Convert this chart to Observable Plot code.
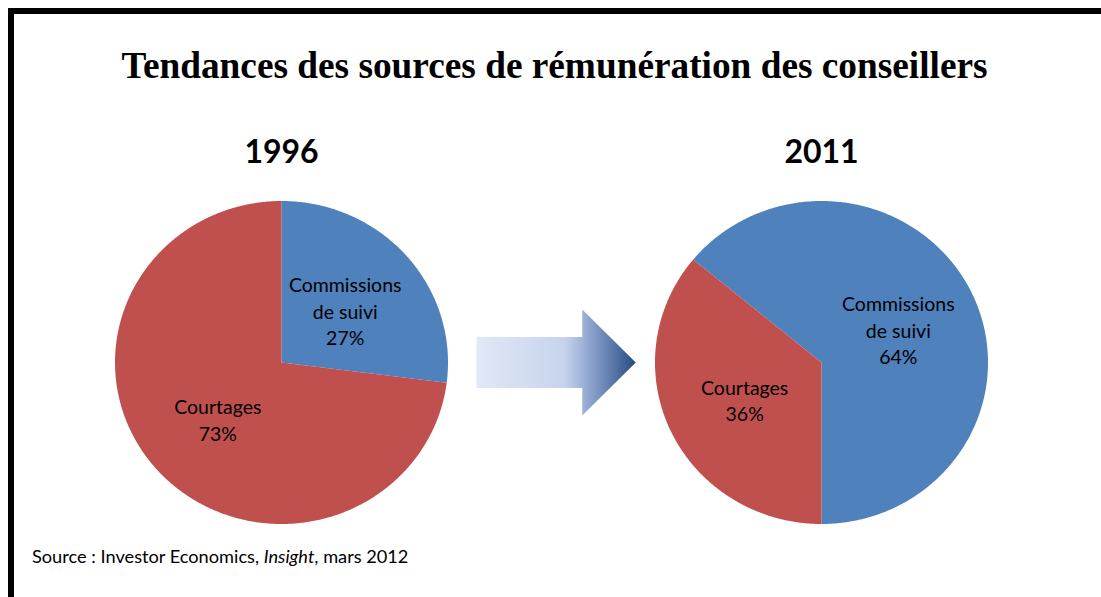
<!DOCTYPE html>
<html><head><meta charset="utf-8">
<script src="https://cdn.jsdelivr.net/npm/d3@7"></script>
<script src="https://cdn.jsdelivr.net/npm/@observablehq/plot@0.6"></script>
<style>
body{margin:0;background:#fff;}
#wrap{position:relative;width:1101px;height:597px;overflow:hidden;background:#fff;}
#frameTop{position:absolute;left:8px;top:8px;width:1093px;height:6px;background:#000;}
#frameLeft{position:absolute;left:8px;top:8px;width:6px;height:589px;background:#000;}
#chart{position:absolute;left:0;top:0;}
#title{position:absolute;left:8px;width:1093px;top:44px;text-align:center;font:bold 37.3px "Liberation Serif",serif;color:#000;white-space:nowrap;}
#source{position:absolute;left:32px;top:545px;font:18.2px Lato,sans-serif;color:#000;white-space:nowrap;}
</style></head>
<body>
<div id="wrap">
  <div id="chart"></div>
  <div id="frameTop"></div>
  <div id="frameLeft"></div>
  <div id="title">Tendances des sources de rémunération des conseillers</div>
  <div id="source">Source : Investor Economics, <i>Insight</i>, mars 2012</div>
</div>
<script>
// ---- data ----
const years = ["1996", "2011"];
const sources = ["Commissions de suivi", "Courtages"];
const sourceLabels = ["Commissions\nde suivi", "Courtages"];
const shares1996 = [27, 73];
const shares2011 = [64, 36];
const colors = ["#4f81bd", "#c0504d"];

// ---- layout (pixels -> units; 1 unit = distance between pie centres) ----
const W = 1101, H = 597;
const unit = 540, cx0 = 281, cy0 = 362;
const Rx = 166.5 / unit, Ry = 161.5 / unit;
const sliceOrder = [[0, 1], [1, 0]];   // slice drawing order per pie
const firstAngle = [0, 180];           // degrees clockwise from 12 o'clock
const labelFrac = 0.51;

const shares = [shares1996, shares2011];
const slices = [];
const labels = [];
years.forEach((yr, i) => {
  let a = firstAngle[i];
  for (const s of sliceOrder[i]) {
    const span = shares[i][s] / 100 * 360;
    const pts = [{year: yr, source: sources[s], x: i, y: 0}];
    const n = Math.max(2, Math.ceil(span * 2));
    for (let k = 0; k <= n; k++) {
      const t = (a + span * k / n) * Math.PI / 180;
      pts.push({year: yr, source: sources[s], x: i + Rx * Math.sin(t), y: Ry * Math.cos(t)});
    }
    pts.push({year: yr, source: sources[s], x: i, y: 0});
    slices.push(...pts);
    const m = (a + span / 2) * Math.PI / 180;
    labels.push({year: yr, source: sources[s], x: i + labelFrac * Rx * Math.sin(m), y: labelFrac * Ry * Math.cos(m),
      text: sourceLabels[s] + "\n" + shares[i][s] + "%"});
    a += span;
  }
});

const arrow = [[0.361, 0.047], [0.557, 0.047], [0.557, 0.098], [0.656, 0], [0.557, -0.098], [0.557, -0.047], [0.361, -0.047]]
  .map(([x, y]) => ({x, y}));

const svgNS = "http://www.w3.org/2000/svg";
function gradientDefs() {
  const defs = document.createElementNS(svgNS, "defs");
  defs.innerHTML = `<linearGradient id="arrowGrad" x1="0" y1="0" x2="1" y2="0">
    <stop offset="0" stop-color="#e2e8f5"/>
    <stop offset="0.55" stop-color="#c6d4ed"/>
    <stop offset="0.67" stop-color="#9db2d8"/>
    <stop offset="1" stop-color="#264a84"/>
  </linearGradient>`;
  return defs;
}

const plot = Plot.plot({
  width: W, height: H,
  marginTop: 0, marginRight: 0, marginBottom: 0, marginLeft: 0,
  x: {type: "linear", domain: [-cx0 / unit, (W - cx0) / unit], axis: null},
  y: {type: "linear", domain: [-(H - cy0) / unit, cy0 / unit], axis: null},
  marks: [
    gradientDefs,
    ...sources.map((s, j) => Plot.line(slices.filter(d => d.source === s), {
      x: "x", y: "y", z: "year", fill: colors[j], stroke: "none", curve: "linear"
    })),
    Plot.line(arrow, {x: "x", y: "y", fill: "url(#arrowGrad)", stroke: "none"}),
    Plot.text(labels, {x: "x", y: "y", text: "text", fontSize: 19.5, lineHeight: 1.36, dy: 2,
      fontFamily: "Lato, sans-serif", fill: "#000", textAnchor: "middle"}),
    Plot.text(years, {x: (d, i) => i, y: () => (cy0 - 152) / unit, text: d => d,
      fontSize: 32, fontWeight: "bold", fontFamily: "Lato, sans-serif", fill: "#000"})
  ]
});
document.getElementById("chart").appendChild(plot);
</script>
</body></html>
